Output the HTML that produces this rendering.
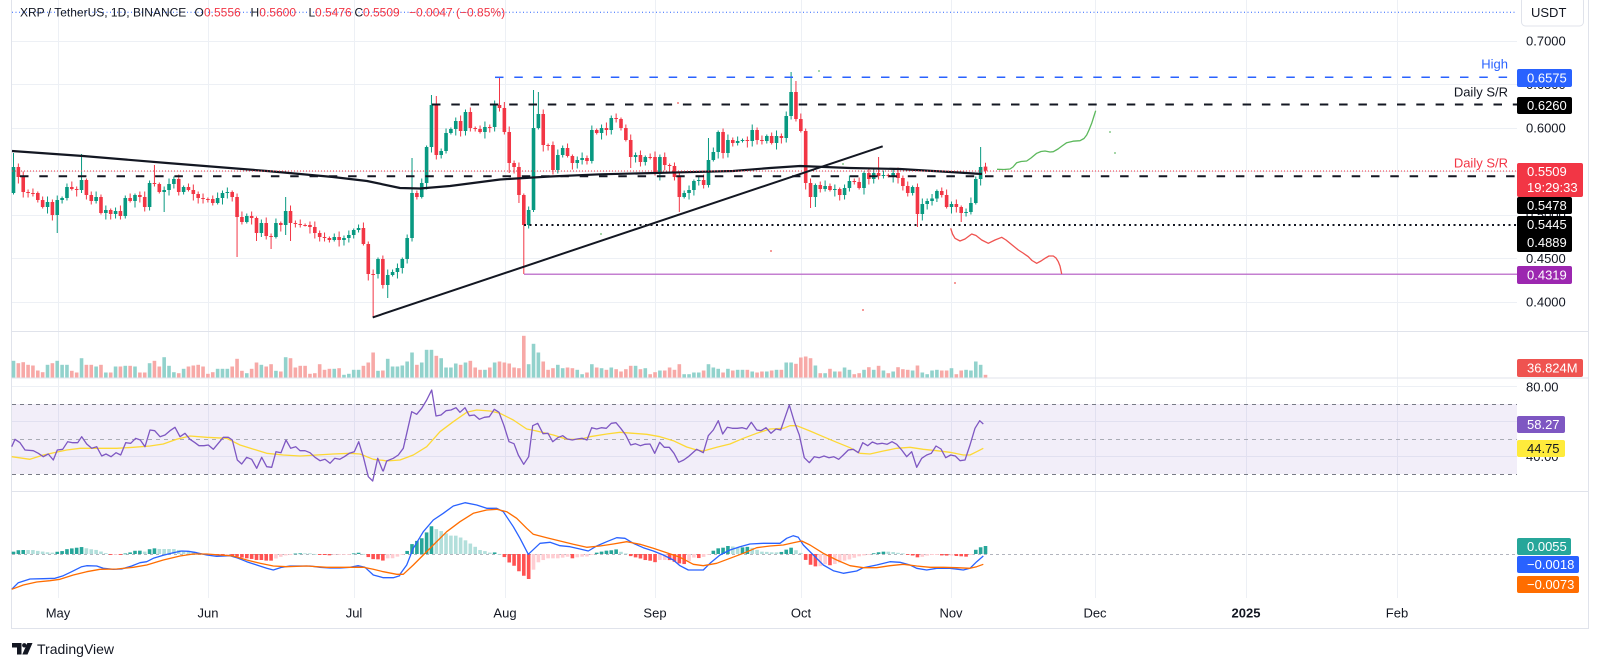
<!DOCTYPE html>
<html><head><meta charset="utf-8">
<style>
html,body{margin:0;padding:0;background:#fff;}
svg{display:block;font-family:"Liberation Sans",Arial,sans-serif;}
</style></head><body>
<svg id="c" width="1600" height="668" viewBox="0 0 1600 668" xmlns="http://www.w3.org/2000/svg">
<rect width="1600" height="668" fill="#fff"/>
<!-- grid -->
<g stroke="#edf0f5" stroke-width="1" fill="none">
<path d="M12 41.5H1517M12 84.5H1517M12 128.5H1517M12 171.5H1517M12 215.5H1517M12 258.5H1517M12 302.5H1517"/>
<path d="M58.5 0V598M208.5 0V598M354.5 0V598M505.5 0V598M655.5 0V598M801.5 0V598M951.5 0V598M1095.5 0V598M1246.5 0V598M1397.5 0V598"/>
<path d="M12 386.5H1517M12 421.5H1517M12 456.5H1517"/>
</g>
<!-- RSI band -->
<rect x="12" y="404" width="1505" height="70" fill="#7e57c2" fill-opacity="0.1"/>
<path d="M12 404.5H1517M12 474.5H1517" stroke="#787b86" stroke-width="1" stroke-dasharray="4 4" fill="none"/>
<path d="M12 439.5H1517" stroke="#a9acb5" stroke-width="1" stroke-dasharray="4 4" fill="none"/>
<path d="M12 554.5H1517" stroke="#b2b5be" stroke-width="1" stroke-dasharray="3 3" fill="none"/>
<!-- frame -->
<g stroke="#e0e3eb" stroke-width="1" fill="none">
<path d="M11.5 0V628.5H1588.5V0"/>
<path d="M11.5 331.5H1588.5M11.5 378H1588.5M11.5 491.5H1588.5"/>
</g>
<g id="gV"></g>
<g id="gC"></g>
<g id="gMA"></g>
<!-- drawings -->
<g fill="none">
<path d="M12 12.3H1516" stroke="#2962ff" stroke-width="1" stroke-dasharray="1 2.5"/>
<path d="M495 77.3H1517" stroke="#2962ff" stroke-width="1.5" stroke-dasharray="8.5 10.8"/>
<path d="M432 104.5H1517" stroke="#131722" stroke-width="2" stroke-dasharray="8.5 10.8"/>
<path d="M20 176.3H1517" stroke="#131722" stroke-width="2" stroke-dasharray="8.5 10.8"/>
<path d="M12 171H1517" stroke="#f23645" stroke-width="1" stroke-dasharray="1 2"/>
<path d="M524 225H1517" stroke="#131722" stroke-width="2" stroke-dasharray="2 3.5"/>
<path d="M524 274.3H1517" stroke="#ba68c8" stroke-width="1.5" stroke-opacity="0.85"/>
<line x1="372.7" y1="317.4" x2="882.7" y2="146.3" stroke="#131722" stroke-width="2"/>
<polyline stroke="#5cb85c" stroke-width="1.3" stroke-linejoin="round" points="997,169.3 1004,169.5 1010,169 1013,167 1016.7,162.7 1021,161.5 1026.7,161 1031,158 1036.7,153.3 1041,151.5 1045,151 1050,152 1053.3,151.7 1058,149 1062,146 1066.7,142.7 1073,141.2 1080,140.7 1084,138.5 1086.7,135 1089,130 1091.7,123.3 1094,116 1095.7,110.7"/>
<polyline stroke="#ef5350" stroke-width="1.3" stroke-linejoin="round" points="950.7,228.3 952.5,234 955,238.3 960,241 965,239 971.7,234 976,235.5 981.7,240 988.3,243.3 995,240 1001.7,237.3 1006,240 1010,243.3 1018.3,250 1023,253 1028.3,256.7 1032,260.5 1036.7,263.3 1041,261 1045,258.3 1049,256 1053.3,256 1056,258 1058.3,261.7 1060,266 1061.7,274"/>
</g>
<g fill="#66bb6a"><circle cx="819" cy="71" r="0.9"/><circle cx="601" cy="234" r="0.9"/><circle cx="843" cy="164" r="0.9"/><circle cx="1110" cy="132" r="0.9"/><circle cx="1115" cy="153" r="0.9"/></g>
<g fill="#ef5350"><circle cx="678" cy="103" r="0.9"/><circle cx="771" cy="251" r="0.9"/><circle cx="863" cy="310" r="0.9"/><circle cx="955" cy="283" r="0.9"/></g>
<g id="gR"></g>
<g id="gM"></g>
<!-- line labels -->
<g font-size="13" text-anchor="end">
<text x="1508" y="68.5" fill="#2962ff">High</text>
<text x="1508" y="96.7" fill="#131722">Daily S/R</text>
<text x="1508" y="167.7" fill="#f23645">Daily S/R</text>
</g>
<!-- axis labels -->
<g font-size="13" fill="#131722">
<text x="1526" y="45.5">0.7000</text>
<text x="1526" y="89">0.6500</text>
<text x="1526" y="132.5">0.6000</text>
<text x="1526" y="219.5">0.5000</text>
<text x="1526" y="263">0.4500</text>
<text x="1526" y="306.5">0.4000</text>
<text x="1526" y="391.5">80.00</text>
<text x="1526" y="426">60.00</text>
<text x="1526" y="461">40.00</text>
</g>
<!-- USDT -->
<rect x="1521.5" y="-3" width="62" height="29" rx="4" fill="#fff" stroke="#e0e3eb"/>
<text x="1531" y="17" font-size="13" fill="#131722">USDT</text>
<!-- tags -->
<g font-size="13" fill="#fff">
<rect x="1517" y="69" width="55" height="18" rx="2" fill="#2962ff"/><text x="1527" y="82.5">0.6575</text>
<rect x="1517" y="97" width="55" height="17" rx="2" fill="#000"/><text x="1527" y="110">0.6260</text>
<rect x="1517" y="163" width="66" height="34" rx="2" fill="#f23645"/><text x="1527" y="176">0.5509</text><text x="1527" y="192">19:29:33</text>
<rect x="1517" y="197" width="55" height="17" rx="2" fill="#000"/><text x="1527" y="210">0.5478</text>
<rect x="1517" y="216" width="55" height="36" rx="2" fill="#000"/><text x="1527" y="229">0.5445</text><text x="1527" y="247">0.4889</text>
<rect x="1517" y="266" width="55" height="18" rx="2" fill="#9c27b0"/><text x="1527" y="279.5">0.4319</text>
<rect x="1517" y="359" width="66" height="18" rx="2" fill="#ef5350"/><text x="1527" y="372.5">36.824M</text>
<rect x="1517" y="416" width="48" height="17" rx="2" fill="#7e57c2"/><text x="1527" y="429">58.27</text>
<rect x="1517" y="440" width="48" height="17" rx="2" fill="#ffeb3b"/><text x="1527" y="453" fill="#131722">44.75</text>
<rect x="1517" y="538" width="54" height="17" rx="2" fill="#26a69a"/><text x="1527" y="551">0.0055</text>
<rect x="1517" y="556" width="62" height="17" rx="2" fill="#2962ff"/><text x="1527" y="569">−0.0018</text>
<rect x="1517" y="576" width="62" height="17" rx="2" fill="#ff6d00"/><text x="1527" y="589">−0.0073</text>
</g>
<!-- time axis -->
<g font-size="13" fill="#131722" text-anchor="middle">
<text x="58" y="617.5">May</text><text x="208" y="617.5">Jun</text><text x="354" y="617.5">Jul</text>
<text x="505" y="617.5">Aug</text><text x="655" y="617.5">Sep</text><text x="801" y="617.5">Oct</text>
<text x="951" y="617.5">Nov</text><text x="1095" y="617.5">Dec</text>
<text x="1246" y="617.5" font-weight="bold">2025</text><text x="1397" y="617.5">Feb</text>
</g>
<!-- header -->
<text y="16.5" font-size="12" fill="#131722">
<tspan x="20">XRP / TetherUS, 1D, BINANCE</tspan>
<tspan x="194.5">O</tspan><tspan x="204" fill="#f23645">0.5556</tspan>
<tspan x="250.5">H</tspan><tspan x="259.3" fill="#f23645">0.5600</tspan>
<tspan x="308.5">L</tspan><tspan x="315" fill="#f23645">0.5476</tspan>
<tspan x="354.5">C</tspan><tspan x="363" fill="#f23645">0.5509</tspan>
<tspan x="409" fill="#f23645">−0.0047 (−0.85%)</tspan>
</text>
<!-- logo -->
<g fill="#131722">
<path d="M12 643h9.5v11.5h-4.5v-7h-5z"/>
<circle cx="24.3" cy="645.3" r="2.2"/>
<path d="M27.3 643h5.2l-5 11.5h-5.2z"/>
</g>
<text x="37" y="654" font-size="14" fill="#131722">TradingView</text>
</svg>
<script>
(function(){
const NS="http://www.w3.org/2000/svg";
function mk(p,t,a){const e=document.createElementNS(NS,t);for(const k in a)e.setAttribute(k,a[k]);p.appendChild(e);return e;}
const X=i=>13.5+4.86*i;
const C=[167,177,192,193,193,200,207,202,215,200,
198,187,189,190,180,195,201,197,213,210,
214,211,216,198,201,195,197,207,183,184,
192,190,184,179,192,187,190,194,198,199,
199,203,198,193,192,197,217,222,216,218,
233,223,236,237,223,225,211,223,224,225,
225,227,233,237,238,240,237,240,238,235,
230,228,244,274,274,259,285,275,272,268,
259,238,193,197,183,147,105,155,151,133,
129,121,131,112,128,129,132,127,127,105,
108,132,163,167,195,225,210,128,114,145,
145,170,155,148,156,163,160,158,161,130,
133,128,130,118,119,128,140,157,155,162,
157,157,174,157,165,166,177,197,193,190,
181,180,185,160,152,132,153,140,143,141,
140,141,130,140,141,136,143,136,138,116,
92,119,131,183,197,185,189,186,190,189,
195,188,181,182,188,173,179,173,176,175,
176,173,178,186,193,187,214,204,201,198.5,
191,195,207,204,207,213,212,203,179,167,170.7];
const V=[16.7,14.3,15.3,12.7,12,7,5.3,12.7,14.3,16.7,
12.7,12.7,6.7,5,19.3,12.7,12.7,11,12.7,5,
5,11,11,11.7,11.7,11,5,5,14.3,16.7,
11,20.3,11.7,5.3,4.3,8.7,11,12,12.7,11,
3.7,5.3,8.7,8.7,8.7,11,18.7,6.7,4.3,8.7,
15,12.7,11,13.3,6.7,6,20.3,19.3,10,11.7,
11.7,3.7,4.3,13.3,7.7,8.7,8.7,9.3,2.7,3.7,
7.7,7.7,11.7,15,25,6.7,7,18.7,11,11,
12,16,25,12.7,15,27.7,27.7,21.7,19.3,10,
10,14,12.7,15,16.7,10,7.7,7.7,10,15,
16,15,14,10,9.3,41.7,13.3,33.7,25,16,
7.7,9.3,12.7,9.3,10,9.3,7.7,3.3,5,13.3,
10,9.3,7.7,10,8.3,6,8.3,11.7,11.7,8.3,
9.3,3.3,5.3,7,7,10,7.7,13.3,3.3,3.3,
5,5,7,13.3,10,8.7,5,8.7,7,7.7,
7.7,7.7,6,5,6,6,7,7.7,7.7,15,
15,13.7,20,21,19.3,12,4.3,4.3,8.7,6,
6,10,7.7,3.3,4.3,7.7,10.3,7.7,11.7,7,
4.3,6,10.3,8.3,7.7,7,12,5,3.3,7,
7.7,7,7,9.3,3.3,7,7.7,7,16,12.7,2.7];
const N=C.length;
const O=[193].concat(C.slice(0,N-1)); O[200]=166.6;
const HI={0:153,14:154,29:165,56:197,82:158,86:95,87:96,100:77,101:102,107:90,108:92,143:138,160:72,161:81,178:157,199:147,200:162.8};
const LO={9:233,14:193,31:212,46:257,50:241,51:237,53:249,56:235,57:241,74:317,77:298,102:173,104:203,105:274,107:212,127:168,137:212,164:208,165:207,186:227,195:222,200:173.6};
const gC=document.getElementById('gC'),gV=document.getElementById('gV');
for(let i=0;i<N;i++){
 const x=X(i),o=O[i],c=C[i];
 const up=c<o;const col=up?'#089981':'#f23645';
 const top=Math.min(o,c),bot=Math.max(o,c);
 const hi=(i in HI)?HI[i]:top-(1.5+(i*7)%5);
 const lo=(i in LO)?LO[i]:bot+(1.5+(i*11)%6);
 mk(gC,'line',{x1:x,x2:x,y1:hi,y2:lo,stroke:col,'stroke-width':1});
 mk(gC,'rect',{x:x-1.8,y:top,width:3.6,height:Math.max(1,bot-top),fill:col});
 const h=V[i]||3;
 mk(gV,'rect',{x:x-1.8,y:377.5-h,width:3.6,height:h,fill:up?'#92d2cc':'#f7a9a7'});
}
// MA
const MA=[[12,151],[83,156],[167,163],[267,171],[300,174],[333,177],[367,181],[400,188],[420,188.5],[450,186],[500,179.5],[550,176.5],[600,174.3],[667,172.7],[733,171],[770,168],[800,166],[850,168],[900,169],[950,172],[982,174]];
mk(document.getElementById('gMA'),'polyline',{points:MA.map(p=>p.join(',')).join(' '),fill:'none',stroke:'#131722','stroke-width':2.2,'stroke-linejoin':'round'});

function pts(arr,ox,oy,x0,x1){const r=[];for(let k=0;k<arr.length;k+=2){const x=ox+arr[k]/3,y=oy+arr[k+1]/3;if(x>=x0&&x<x1)r.push([x,y]);}return r;}
function interp(P,x){if(x<=P[0][0])return P[0][1];for(let k=1;k<P.length;k++){if(x<=P[k][0]){const a=P[k-1],b=P[k];return a[1]+(b[1]-a[1])*(x-a[0])/(b[0]-a[0]);}}return P[P.length-1][1];}
function pl(g,P,col,w){mk(g,'polyline',{points:P.map(p=>p[0].toFixed(1)+','+p[1].toFixed(1)).join(' '),fill:'none',stroke:col,'stroke-width':w,'stroke-linejoin':'round'});}

// RSI
const r4=[35,440,45,418,60,428,75,450,100,452,115,460,130,470,145,462,160,480,172,450,188,448,203,425,218,428,233,428,245,410,260,432,275,445,290,440,305,468,318,462,333,470,348,458,362,465,377,428,392,430,407,415,421,420,435,440,450,390,464,392,480,410,495,405,510,392,525,382,540,410,555,400,570,418,585,428,597,437,612,437,625,435,640,448,655,430,670,412,685,412,697,420,712,480,725,492,740,472,755,478,770,505,785,472,800,500,815,502,828,455,843,458,858,420,872,445,887,440,900,452,915,452,930,458,945,472,960,482,975,478,990,490,1004,475,1019,478,1033,470,1048,460,1063,455,1076,425,1090,470,1105,530,1118,543,1133,475,1148,512];
const r10=[10,438,20,408,40,400,55,390,70,370,95,260,110,268,125,250,140,225,155,195,168,273,183,270,198,257,213,255,228,248,240,262,255,248,268,272,283,270,298,283,313,277,328,275,343,253,357,262,372,302,387,350,402,356,415,390,431,418,446,395,458,302,473,295,489,326,504,325,518,350,533,338,548,332,562,342,577,345,591,342,606,340,621,345,635,308,650,312,664,308,679,310,694,295,708,293,722,310,737,330,752,360,766,356,781,362,795,358,810,357,824,385,839,352,853,367,868,367,882,385,896,412,911,405,925,395];
const r11=[20,373,40,383,55,332,70,315,85,287,98,327,112,307,127,310,142,310,157,308,170,312,184,292,200,315,213,317,228,308,243,325,258,312,272,315,284,280,298,240,313,290,328,330,343,398,358,413,373,395,388,398,402,393,417,398,431,395,446,403,460,390,475,375,490,373,505,383,518,353,533,362,547,351,562,357,576,355,591,358,606,350,620,358,635,375,650,395,665,380,680,427,695,400,710,390,724,385,738,363,753,372,767,398,782,390,796,393,810,407,825,405,840,360,855,310,869,287,880,297];
const y4=[35,470,90,478,130,465,200,450,240,445,300,445,350,445,400,442,450,438,490,432,530,418,570,408,620,412,680,415,720,435,800,460,850,465,900,468,950,465,1000,462,1050,460,1080,462,1120,478,1148,481];
const y10=[20,408,60,405,100,390,140,365,180,320,220,290,260,262,290,255,330,258,360,265,400,285,440,312,470,318,520,330,560,343,600,343,630,335,680,327,720,322,760,325,800,328,840,335,880,347,920,366];
const y11=[20,375,40,378,80,367,120,357,160,340,200,325,240,312,280,310,300,302,320,302,360,318,400,335,440,352,480,368,510,385,540,387,580,378,620,370,660,367,700,373,740,377,780,382,820,390,840,390,860,380,880,370];
const gR=document.getElementById('gR');
pl(gR,pts(y4,0,300,0,383).concat(pts(y10,380,325,383,692),pts(y11,690,325,692,2000)),'#fdd835',1.3);
pl(gR,pts(r4,0,300,0,383).concat(pts(r10,380,325,383,692),pts(r11,690,325,692,2000)),'#7e57c2',1.3);

// MACD
const m5=[35,328,55,308,90,297,130,296,165,295,190,287,215,275,245,260,260,257,290,258,310,265,340,268,365,267,395,258,420,248,440,245,460,235,490,226,520,218,545,213,565,214,590,218,620,225,650,229,690,227,710,233,740,245,770,255,800,265,820,270,845,262,870,258,900,258,930,258,960,262,990,264,1020,264,1050,262,1075,257,1095,262,1120,285,1150,293,1180,293,1199,287];
const m10=[60,748,80,720,100,670,130,620,160,585,190,565,220,543,255,533,290,540,320,550,350,550,370,560,400,605,420,640,445,688,480,655,510,652,540,662,570,665,600,672,625,678,650,663,680,650,710,638,735,640,760,655,790,668,820,678,850,690,880,705,900,722,925,735];
const m11=[10,735,40,735,60,715,90,690,120,675,150,665,180,657,220,655,270,655,290,640,310,632,325,637,340,660,370,690,400,720,430,737,460,745,500,738,520,728,560,720,600,710,630,712,660,720,680,730,710,735,740,730,780,730,820,735,840,730,860,710,880,693];
const o5=[35,328,70,315,110,306,150,302,180,298,220,285,260,275,300,268,350,267,400,262,440,255,490,240,540,228,580,222,620,222,660,225,700,228,740,240,780,250,820,258,860,260,920,258,980,262,1040,262,1090,262,1120,268,1150,275,1190,283];
const o10=[70,748,100,720,130,690,160,660,200,620,240,590,280,565,320,555,350,553,380,560,410,580,440,610,460,628,500,638,540,648,580,658,620,667,660,663,700,657,740,650,780,658,820,670,860,683,900,697,940,712];
const o11=[10,718,40,722,80,715,120,700,160,685,200,668,240,663,280,660,310,653,335,648,360,660,400,685,440,705,480,722,520,728,560,728,600,722,640,718,680,723,720,727,760,727,800,728,840,730,860,725,880,718];
const h5=[42,215,57,210,72,210,86,210,100,210,115,213,130,215,144,217,158,218,173,215,188,213,202,207,217,205,231,203,246,201,260,205,275,208,290,210,304,215,319,220,333,225,348,223,363,225,377,220,392,217,406,212,421,212,435,215,450,207,464,205,479,207,494,207,508,207,523,207,537,210,552,212,566,213,581,215,596,220,610,222,625,224,640,224,654,226,669,226,683,226,698,228,712,230,727,233,741,235,756,237,770,240,785,240,800,242,815,242,829,235,844,230,858,226,873,225,888,220,902,220,917,220,931,220,946,222,960,225,975,225,989,226,1004,224,1019,224,1033,224,1048,222,1062,220,1077,218,1091,222,1106,232,1121,238,1135,238,1148,242];
const h10=[8,705,22,700,37,700,52,695,66,690,80,680,95,658,110,648,125,640,140,622,155,603,168,612,183,618,198,625,213,632,228,632,243,638,255,645,270,655,285,665,300,675,314,678,328,683,343,682,357,686,372,695,387,712,402,722,416,738,431,752,446,762,460,735,475,712,490,705,504,700,518,700,533,700,548,698,562,695,577,700,591,697,606,695,620,695,635,688,650,683,664,680,679,677,693,676,708,673,722,680,737,685,751,693,766,697,780,700,795,705,810,707,824,712,839,705,853,705,868,705,882,710,897,715,911,718,926,710];
const h11=[8,697,22,700,37,697,52,692,66,680,80,670,95,670,110,663,124,663,139,668,153,668,168,665,182,667,197,672,211,680,226,680,240,682,255,682,270,682,284,678,299,665,313,675,328,677,342,698,357,718,371,722,386,728,400,715,415,722,430,718,444,715,459,708,473,705,488,700,502,695,517,692,531,690,546,686,560,683,575,680,590,680,604,680,619,683,633,684,648,687,662,688,677,697,691,697,706,693,720,690,735,690,749,690,764,693,778,690,793,693,807,693,822,695,836,695,851,678,865,670,880,663];
const gM=document.getElementById('gM');
const H=pts(h5,0,480,0,383).concat(pts(h10,380,325,383,692),pts(h11,690,325,692,2000));
let prev=0;
for(let i=0;i<N;i++){
 const x=X(i);const y=interp(H,x);const hv=554-y;
 let col;
 if(hv>=0)col=(hv>prev)?'#26a69a':'#b2dfdb';else col=(hv<prev)?'#ff5252':'#ffcdd2';
 prev=hv;
 const t=Math.min(y,554),hh=Math.max(0.8,Math.abs(554-y));
 mk(gM,'rect',{x:x-1.8,y:t,width:3.6,height:hh,fill:col});
}
pl(gM,pts(m5,0,480,0,400).concat(pts(m10,380,325,400,692),pts(m11,690,325,692,2000)),'#2962ff',1.3);
pl(gM,pts(o5,0,480,0,400).concat(pts(o10,380,325,400,692),pts(o11,690,325,692,2000)),'#ff6d00',1.3);
})();
</script>
</body></html>
